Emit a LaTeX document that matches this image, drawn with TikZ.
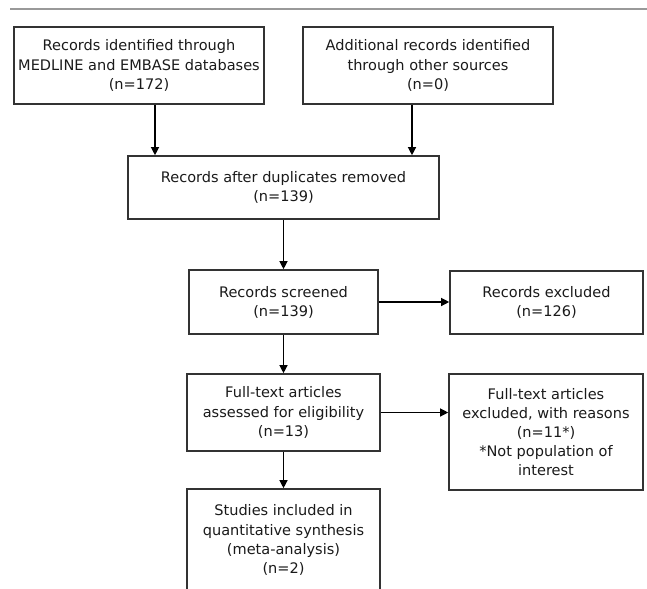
\documentclass[tikz,border=0pt]{standalone}
\usepackage{fontspec}
\setmainfont{DejaVu Sans}
\usetikzlibrary{arrows.meta}
\definecolor{boxline}{HTML}{333333}
\definecolor{rulegray}{HTML}{999999}
\definecolor{txt}{HTML}{1A1A1A}
\begin{document}
\begin{tikzpicture}[x=0.75pt,y=-0.75pt,
  box/.style={draw=boxline, line width=1.2pt, inner sep=0pt, align=center,
    font=\fontsize{10.9pt}{14.3pt}\selectfont, text=txt},
  arr/.style={draw=black, line width=0.9pt, -{Triangle[length=6pt,width=6pt]}}]
\useasboundingbox (0,0) rectangle (647,589);
\draw[rulegray, line width=1.5pt] (10,9) -- (647,9);

\node[box, minimum width=187.5pt, minimum height=57.75pt] (b1) at (139,65.5)
  {Records identified through\\MEDLINE and EMBASE databases\\(n=172)};
\node[box, minimum width=187.5pt, minimum height=57.75pt] (b2) at (428,65.5)
  {Additional records identified\\through other sources\\(n=0)};
\node[box, minimum width=233.25pt, minimum height=47.25pt] (b3) at (283.5,187.5)
  {Records after duplicates removed\\(n=139)};
\node[box, minimum width=141.75pt, minimum height=48pt] (b4) at (283.5,302)
  {Records screened\\(n=139)};
\node[box, minimum width=144.75pt, minimum height=47.25pt] (b5) at (546.5,302.5)
  {Records excluded\\(n=126)};
\node[box, minimum width=144.75pt, minimum height=57.75pt] (b7) at (283.5,412.5)
  {Full-text articles\\assessed for eligibility\\(n=13)};
\node[box, minimum width=145.5pt, minimum height=87pt] (b6) at (546,432)
  {Full-text articles\\excluded, with reasons\\(n=11*)\\*Not population of\\interest};
\node[box, minimum width=144.75pt, minimum height=76.5pt] (b8) at (283.5,540)
  {Studies included in\\quantitative synthesis\\(meta-analysis)\\(n=2)};

\coordinate (x1) at (155,0);
\coordinate (x2) at (412,0);
\draw[arr] (b1.south -| x1) -- (b3.north -| x1);
\draw[arr] (b2.south -| x2) -- (b3.north -| x2);
\draw[arr] (b3.south) -- (b4.north);
\draw[arr] (b4.east) -- (b4.east -| b5.west);
\draw[arr] (b4.south) -- (b7.north);
\draw[arr] (b7.east) -- (b7.east -| b6.west);
\draw[arr] (b7.south) -- (b8.north);
\end{tikzpicture}
\end{document}
